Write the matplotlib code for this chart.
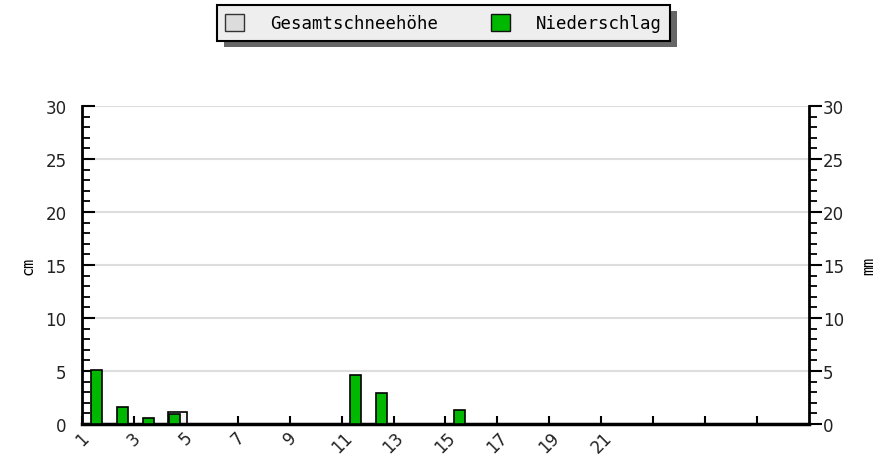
import matplotlib
matplotlib.use('agg')

import numpy as np
import matplotlib.pyplot as plt
from matplotlib.patches import Rectangle, Patch

# daily values, 28 days
days = list(range(1, 29))
niederschlag = [5.1, 1.6, 0.6, 0.9, 0, 0, 0, 0, 0, 0,
                4.6, 2.9, 0, 0, 1.3, 0, 0, 0, 0, 0,
                0, 0, 0, 0, 0, 0, 0, 0]
schnee = [0, 0, 0, 1.1, 0, 0, 0, 0, 0, 0,
          0, 0, 0, 0, 0, 0, 0, 0, 0, 0,
          0, 0, 0, 0, 0, 0, 0, 0]
tick_days = list(range(1, 29, 2))
tick_labels = [str(d) if d <= 21 else '' for d in tick_days]

green = '#00b800'
snow_grey = '#dcdcdc'

fig = plt.figure(figsize=(8.9, 4.56), dpi=100)
ax = fig.add_axes([82/890, 31/456, 727/890, 318/456])

x = np.array(days) - 1
ax.bar(x + 0.33, schnee, width=0.7, align='edge', color='#f4f4f4', edgecolor='black', linewidth=1.2, zorder=2)
ax.bar(x + 0.55, niederschlag, width=0.42, color=green, edgecolor='black', linewidth=1.2, zorder=3)

ax.set_xlim(0, 28)
ax.set_ylim(0, 30)
ax.set_xticks([d - 1 for d in tick_days])
ax.set_xticklabels(tick_labels, rotation=45, fontsize=12, family='DejaVu Sans', color='#222222')
ax.tick_params(axis='x', direction='in', length=6, width=1.5, pad=3)

ax.set_yticks(range(0, 31, 5))
ax.set_yticks(range(0, 31), minor=True)
ax.tick_params(axis='y', which='major', direction='in', length=9, width=1.5, labelsize=12, pad=11, labelcolor='#222222')
ax.tick_params(axis='y', which='minor', direction='in', length=5.5, width=1.3)
ax.yaxis.grid(True, color='#dddddd', linewidth=1.5, zorder=0)
ax.set_axisbelow(True)

ax.spines['top'].set_visible(False)
ax.spines['left'].set_linewidth(2)
ax.spines['right'].set_linewidth(2)
ax.spines['bottom'].set_linewidth(2.5)
ax.set_ylabel('cm', fontsize=11, family='DejaVu Sans Mono')
ax.yaxis.set_label_coords(-46/727, 0.5)

ax2 = ax.twinx()
ax2.set_ylim(0, 30)
ax2.set_yticks(range(0, 31, 5))
ax2.set_yticks(range(0, 31), minor=True)
ax2.tick_params(axis='y', which='major', direction='out', length=9, width=1.5, labelsize=12, pad=1, labelcolor='#222222')
ax2.tick_params(axis='y', which='minor', direction='out', length=5.5, width=1.3)
for s in ax2.spines.values():
    s.set_visible(False)
ax2.set_ylabel('mm', fontsize=11, family='DejaVu Sans Mono', rotation=90)
ax2.yaxis.set_label_coords(1 + 52/727, 0.5)

# legend with hard shadow
handles = [Patch(facecolor=snow_grey, edgecolor='#333333', label='Gesamtschneehöhe'),
           Patch(facecolor=green, edgecolor='#111111', label='Niederschlag')]
leg = fig.legend(handles=handles, loc='center', bbox_to_anchor=(443.5/890, 1 - 24/456), ncol=2,
                 frameon=True, fancybox=False, prop={'family': 'DejaVu Sans Mono', 'size': 12.5},
                 handlelength=1.1, handleheight=1.1, handletextpad=1.5, columnspacing=3.0,
                 borderpad=0.5, borderaxespad=0)
frame = leg.get_frame()
frame.set_facecolor('#eeeeee')
frame.set_edgecolor('black')
frame.set_linewidth(1.5)
frame.set_alpha(1)

fig.canvas.draw()
bb = leg.get_window_extent()
fig.patches.append(Rectangle(((bb.x0 + 7) / 890, (bb.y0 - 6) / 456), bb.width / 890, bb.height / 456,
                             transform=fig.transFigure, facecolor='#666666', edgecolor='none', zorder=0))

fig.savefig('out.png', dpi=100)
